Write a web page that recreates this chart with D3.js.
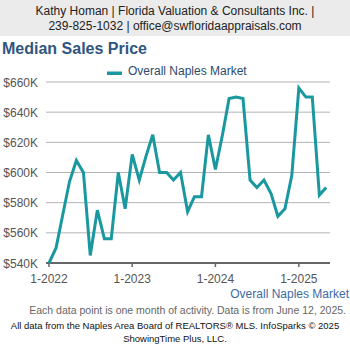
<!DOCTYPE html>
<html>
<head>
<meta charset="utf-8">
<script src="https://cdn.jsdelivr.net/npm/d3@7"></script>
<style>
  body { margin: 0; background: #fff; }
  svg { display: block; font-family: "Liberation Sans", Arial, sans-serif; }
</style>
</head>
<body>
<svg id="chart"></svg>
<script>
// monthly median sales price, Jan 2022 .. May 2025 (in $K)
const startMonth = new Date(2022, 0, 1);
const prices = [
  540, 550, 571, 594, 608, 600, 545, 575, 556, 556, 600, 576,
  612, 595, 610, 625, 600, 600, 595, 600, 574, 584, 584, 625,
  602, 625, 649, 650, 649, 595, 590, 595, 586, 571, 576, 598,
  656, 650, 650, 585, 590
];
const yTicks = [540, 560, 580, 600, 620, 640, 660];
const xTickDates = [new Date(2022, 0, 1), new Date(2023, 0, 1), new Date(2024, 0, 1), new Date(2025, 0, 1)];
const seriesName = "Overall Naples Market";

const data = prices.map((v, i) => ({ date: d3.timeMonth.offset(startMonth, i), value: v }));

const W = 350, H = 350;
const svg = d3.select("#chart").attr("width", W).attr("height", H);

// header band
svg.append("rect").attr("x", 0).attr("y", 0).attr("width", W).attr("height", 36).attr("fill", "#ebebeb");
svg.append("text").attr("x", 175).attr("y", 15).attr("text-anchor", "middle")
  .attr("font-size", 12).attr("fill", "#222")
  .text("Kathy Homan | Florida Valuation & Consultants Inc. |");
svg.append("text").attr("x", 175).attr("y", 30).attr("text-anchor", "middle")
  .attr("font-size", 12).attr("fill", "#222")
  .text("239-825-1032 | office@swfloridaappraisals.com");

// title
svg.append("text").attr("x", 2).attr("y", 54)
  .attr("font-size", 16).attr("font-weight", "bold").attr("fill", "#2f5680")
  .text("Median Sales Price");

// legend
svg.append("rect").attr("x", 107).attr("y", 71.5).attr("width", 15).attr("height", 3.5).attr("fill", "#1a98a0");
svg.append("text").attr("x", 128).attr("y", 75).attr("font-size", 12).attr("fill", "#2c4a6b")
  .text(seriesName);

// scales
const x = d3.scaleTime()
  .domain([startMonth, d3.timeMonth.offset(startMonth, 40)])
  .range([49, 326.2]);
const y = d3.scaleLinear().domain([540, 660]).range([263, 82]);

// gridlines
svg.append("g").selectAll("line").data(yTicks.filter(t => t > 540)).join("line")
  .attr("x1", 46).attr("x2", 330)
  .attr("y1", d => y(d)).attr("y2", d => y(d))
  .attr("stroke", "#b3b3b3").attr("stroke-width", 1);

// y labels
svg.append("g").selectAll("text").data(yTicks).join("text")
  .attr("x", 38).attr("y", d => y(d) + 4.5)
  .attr("text-anchor", "end").attr("font-size", 12).attr("fill", "#555")
  .text(d => `$${d}K`);

// x axis line + ticks
svg.append("line").attr("x1", 46).attr("x2", 330).attr("y1", y(540)).attr("y2", y(540))
  .attr("stroke", "#666").attr("stroke-width", 2);
svg.append("g").selectAll("line").data(xTickDates).join("line")
  .attr("x1", d => x(d)).attr("x2", d => x(d))
  .attr("y1", y(540)).attr("y2", y(540) + 4)
  .attr("stroke", "#666").attr("stroke-width", 1.5);
svg.append("g").selectAll("text").data(xTickDates).join("text")
  .attr("x", d => x(d)).attr("y", 283)
  .attr("text-anchor", "middle").attr("font-size", 12).attr("fill", "#555")
  .text(d => `1-${d.getFullYear()}`);

// line
const line = d3.line().x(d => x(d.date)).y(d => y(d.value));
svg.append("path").datum(data)
  .attr("d", line)
  .attr("fill", "none").attr("stroke", "#1a98a0")
  .attr("stroke-width", 3).attr("stroke-linejoin", "miter");

// footer
svg.append("text").attr("x", 349).attr("y", 298).attr("text-anchor", "end")
  .attr("font-size", 12).attr("fill", "#3e6aa6").text(seriesName);
svg.append("text").attr("x", 346).attr("y", 314).attr("text-anchor", "end")
  .attr("font-size", 10.5).attr("fill", "#666")
  .text("Each data point is one month of activity. Data is from June 12, 2025.");
svg.append("text").attr("x", 175).attr("y", 329).attr("text-anchor", "middle")
  .attr("font-size", 9.5).attr("fill", "#111")
  .text("All data from the Naples Area Board of REALTORS® MLS. InfoSparks © 2025");
svg.append("text").attr("x", 175).attr("y", 342).attr("text-anchor", "middle")
  .attr("font-size", 9.5).attr("fill", "#111")
  .text("ShowingTime Plus, LLC.");
</script>
</body>
</html>
